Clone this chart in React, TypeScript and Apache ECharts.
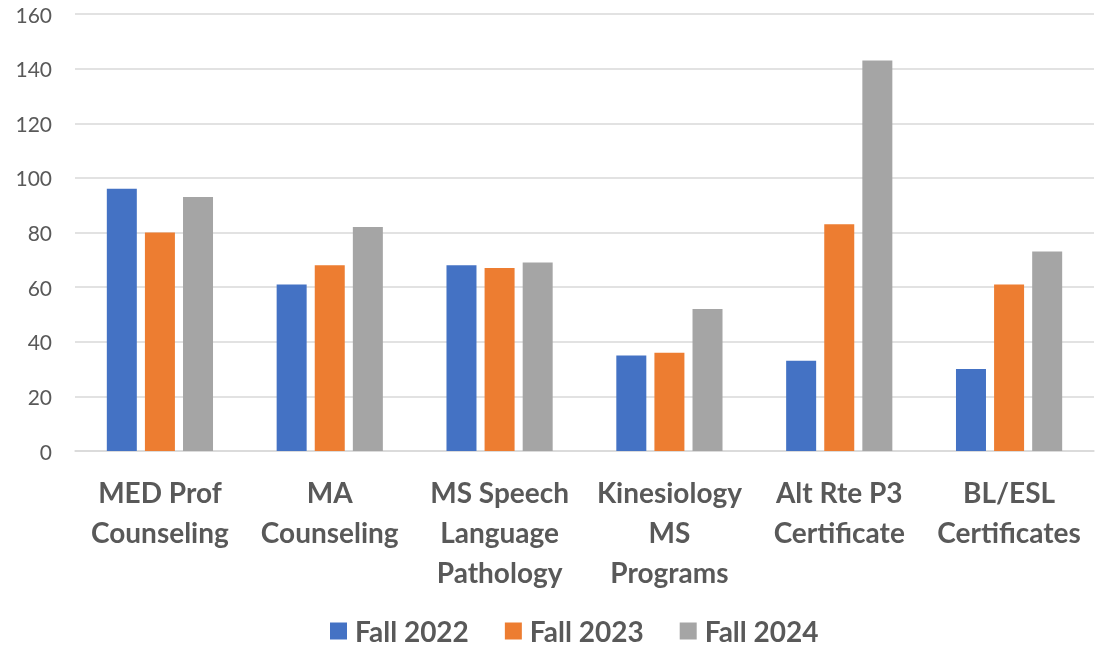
import React, { useEffect, useRef } from "react";
import * as echarts from "echarts";

const categories = [
  "MED Prof\nCounseling",
  "MA\nCounseling",
  "MS Speech\nLanguage\nPathology",
  "Kinesiology\nMS\nPrograms",
  "Alt Rte P3\nCertificate",
  "BL/ESL\nCertificates",
];
const fall2022 = [96, 61, 68, 35, 33, 30];
const fall2023 = [80, 68, 67, 36, 83, 61];
const fall2024 = [93, 82, 69, 52, 143, 73];
const seriesNames = ["Fall 2022", "Fall 2023", "Fall 2024"];
const colors = ["#4472C4", "#ED7D31", "#A5A5A5"];

export default function App() {
  const ref = useRef<HTMLDivElement>(null);
  useEffect(() => {
    const chart = echarts.init(ref.current!, null, { renderer: "svg" });
    const font = "Lato, 'Noto Sans', sans-serif";
    const data = [fall2022, fall2023, fall2024];
    chart.setOption({
      animation: false,
      textStyle: { fontFamily: font },
      grid: { left: 75, right: 10, top: 14, bottom: 196 },
      legend: {
        top: 612,
        left: 325,
        itemWidth: 17,
        itemHeight: 17,
        itemGap: 36,
        icon: "rect",
        textStyle: { fontSize: 28, fontWeight: "bold", color: "#595959", fontFamily: font, padding: [0, 0, 0, 3] },
        data: seriesNames,
      },
      xAxis: {
        type: "category",
        data: categories,
        axisLine: { lineStyle: { color: "#d9d9d9", width: 1.5 } },
        axisTick: { show: false },
        axisLabel: {
          interval: 0,
          margin: 21,
          fontSize: 28,
          fontWeight: "bold",
          color: "#595959",
          lineHeight: 40,
          fontFamily: font,
        },
      },
      yAxis: {
        type: "value",
        min: 0,
        max: 160,
        interval: 20,
        axisLine: { show: false },
        axisTick: { show: false },
        splitLine: { lineStyle: { color: "#d9d9d9", width: 1.5 } },
        axisLabel: { fontSize: 21, color: "#595959", margin: 23, fontFamily: font },
      },
      series: seriesNames.map((name, i) => ({
        name,
        type: "bar",
        data: data[i],
        itemStyle: { color: colors[i] },
        barWidth: 30,
        barGap: "27%",
      })),
    });
    return () => chart.dispose();
  }, []);
  return (
    <div
      ref={ref}
      style={{ position: "fixed", left: 0, top: 0, width: 1104, height: 647 }}
    />
  );
}
